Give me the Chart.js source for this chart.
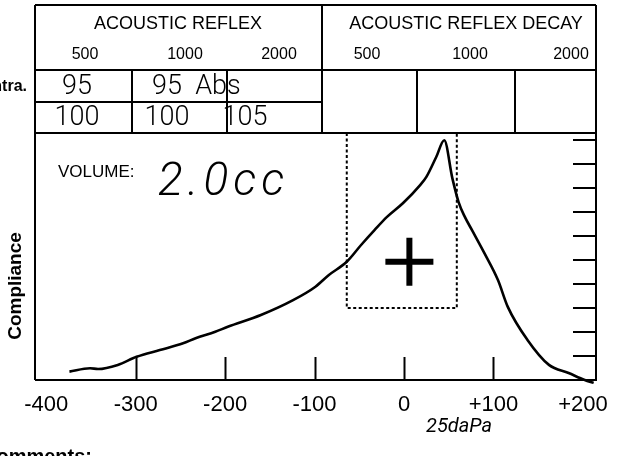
<!DOCTYPE html>
<html><head><meta charset="utf-8">
<script src="https://cdn.jsdelivr.net/npm/chart.js@4.4.1/dist/chart.umd.min.js"></script>
<style>html,body{margin:0;padding:0;background:#fff;}#wrap{width:626px;height:456px;position:relative;overflow:hidden;}</style>
</head><body><div id="wrap"><canvas id="c" width="626" height="456"></canvas></div>
<script>
// ---- data ----
const pressure = [-374, -351, -342, -320, -299, -273, -247, -233, -211, -197, -160, -124, -99, -84, -64, -48, -33, -19, -1, 18, 25, 36, 45, 54, 61, 68, 76, 90, 105, 116, 138, 162, 184, 202, 212];
const compliance = [0.35, 0.49, 0.46, 0.63, 0.97, 1.25, 1.53, 1.74, 2.01, 2.22, 2.71, 3.33, 3.89, 4.38, 4.93, 5.63, 6.25, 6.80, 7.38, 8.13, 8.47, 9.30, 10.0, 8.42, 7.42, 6.80, 6.25, 5.28, 4.17, 3.05, 1.67, 0.63, 0.29, 0.0, -0.12];
const xTickValues = [-400, -300, -200, -100, 0, 100, 200];
const xTickLabels = ['-400', '-300', '-200', '-100', '0', '+100', '+200'];
const xMarkValues = [-300, -200, -100, 0, 100];
const yMarkValues = [1, 2, 3, 4, 5, 6, 7, 8, 9, 10];
const boxPressure = [-64, 59];
const boxCompliance = [3, 10.3];
const markPressure = [6];
const markCompliance = [4.93];
const frequencies = ['500', '1000', '2000'];
const reflexRow1 = ['95', '95', 'Abs'];
const reflexRow2 = ['100', '100', '105'];
const headerLeft = 'ACOUSTIC REFLEX';
const headerRight = 'ACOUSTIC REFLEX DECAY';
const volumeLabel = 'VOLUME:';
const volumeValue = '2.0cc';
const yTitle = 'Compliance';
const stepNote = '25daPa';
const rowLabel = 'Contra.';
const commentsLabel = 'Comments:';

const SANS = '"Liberation Sans", Arial, Helvetica, sans-serif';
const HAND = 'Roboto, "Open Sans", sans-serif';
Chart.defaults.font.family = SANS;
Chart.defaults.color = '#000';

const formPlugin = {
  id: 'form',
  beforeDraw(chart) {
    const ctx = chart.ctx;
    ctx.save();
    ctx.fillStyle = '#fff';
    ctx.fillRect(0, 0, chart.width, chart.height);
    ctx.restore();
  },
  afterDraw(chart) {
    const ctx = chart.ctx;
    const a = chart.chartArea;
    const xs = chart.scales.x, ys = chart.scales.y;
    ctx.save();
    ctx.strokeStyle = '#000';
    ctx.fillStyle = '#000';
    ctx.lineWidth = 2;
    const L = a.left, R = a.right, T = a.top, B = a.bottom;
    const tTop = 5, hDiv = 70, rDiv = 102, mid = 322;
    const line = (x1, y1, x2, y2) => { ctx.beginPath(); ctx.moveTo(x1, y1); ctx.lineTo(x2, y2); ctx.stroke(); };
    // outer frame (table + plot)
    line(L, tTop, R, tTop);
    line(L, tTop, L, B);
    line(R, tTop, R, B + 1);
    line(L, T, R, T);
    line(L, B, R, B);
    line(L, hDiv, R, hDiv);
    line(mid, tTop, mid, T);
    line(L, rDiv, mid, rDiv);
    [132, 227].forEach(x => line(x, hDiv, x, T));
    [417, 515].forEach(x => line(x, hDiv, x, T));
    // tick marks
    xMarkValues.forEach(v => { const p = Math.round(xs.getPixelForValue(v)) + 0.5; line(p, B, p, B - 23); });
    yMarkValues.forEach(v => { const p = Math.round(ys.getPixelForValue(v)); line(R - 23, p, R, p); });
    // texts
    ctx.textAlign = 'center';
    ctx.textBaseline = 'middle';
    ctx.font = '18px ' + SANS;
    ctx.fillText(headerLeft, 178, 24);
    ctx.fillText(headerRight, 466, 24);
    ctx.font = '16px ' + SANS;
    [85, 185, 279].forEach((x, i) => ctx.fillText(frequencies[i], x, 55));
    [367, 470, 571].forEach((x, i) => ctx.fillText(frequencies[i], x, 55));
    ctx.font = '300 27px ' + HAND;
    [77, 167, 218].forEach((x, i) => ctx.fillText(reflexRow1[i], x, 87));
    [77, 167, 245].forEach((x, i) => ctx.fillText(reflexRow2[i], x, 118));
    ctx.textAlign = 'right';
    ctx.font = 'bold 16px ' + SANS;
    ctx.fillText(rowLabel, 27, 87);
    ctx.textAlign = 'left';
    ctx.font = '17px ' + SANS;
    ctx.fillText(volumeLabel, 58, 172);
    ctx.textBaseline = 'alphabetic';
    ctx.font = 'italic 300 46px ' + HAND;
    ctx.letterSpacing = '5px';
    ctx.fillText(volumeValue, 158, 195);
    ctx.letterSpacing = '0px';
    ctx.textAlign = 'center';
    ctx.textBaseline = 'middle';
    ctx.font = 'italic 20px ' + HAND;
    ctx.fillText(stepNote, 459, 427);
    ctx.textAlign = 'right';
    ctx.textBaseline = 'alphabetic';
    ctx.font = 'bold 20px ' + SANS;
    ctx.fillText(commentsLabel, 92, 463);
    // y title
    ctx.save();
    ctx.translate(16, 286);
    ctx.rotate(-Math.PI / 2);
    ctx.textAlign = 'center';
    ctx.textBaseline = 'middle';
    ctx.font = 'bold 19px ' + SANS;
    ctx.fillText(yTitle, 0, 0);
    ctx.restore();
    ctx.restore();
  }
};

new Chart(document.getElementById('c'), {
  type: 'line',
  data: {
    datasets: [
      {
        label: 'Tympanogram',
        data: pressure.map((p, i) => ({ x: p, y: compliance[i] })),
        borderColor: '#000',
        borderWidth: 2.6,
        pointRadius: 0,
        cubicInterpolationMode: 'monotone',
        fill: false,
        clip: 6
      },
      {
        label: 'Normal region',
        data: [
          { x: boxPressure[0], y: boxCompliance[1] },
          { x: boxPressure[0], y: boxCompliance[0] },
          { x: boxPressure[1], y: boxCompliance[0] },
          { x: boxPressure[1], y: boxCompliance[1] }
        ],
        borderColor: '#000',
        borderWidth: 2,
        borderDash: [3, 2.5],
        pointRadius: 0,
        tension: 0,
        fill: false
      },
      {
        label: 'Mark',
        data: markPressure.map((p, i) => ({ x: p, y: markCompliance[i] })),
        showLine: false,
        pointStyle: 'cross',
        pointRadius: 24,
        pointBorderWidth: 6,
        pointBorderColor: '#000',
        borderColor: '#000'
      }
    ]
  },
  options: {
    responsive: false,
    animation: false,
    devicePixelRatio: 1,
    layout: { padding: { left: 35, right: 15, top: 133, bottom: 0 } },
    plugins: { legend: { display: false }, tooltip: { enabled: false } },
    scales: {
      x: {
        type: 'linear',
        min: -412.5,
        max: 214.6,
        grid: { display: false, drawTicks: false },
        border: { display: false },
        afterBuildTicks(scale) { scale.ticks = xTickValues.map(v => ({ value: v })); },
        afterFit(scale) { scale.height = 76; },
        ticks: {
          padding: 12,
          maxRotation: 0,
          autoSkip: false,
          font: { size: 22 },
          color: '#000',
          callback: (v) => { const i = xTickValues.indexOf(v); return i >= 0 ? xTickLabels[i] : ''; }
        }
      },
      y: {
        display: false,
        min: 0,
        max: 10.3
      }
    }
  },
  plugins: [formPlugin]
});
</script>
</body></html>
